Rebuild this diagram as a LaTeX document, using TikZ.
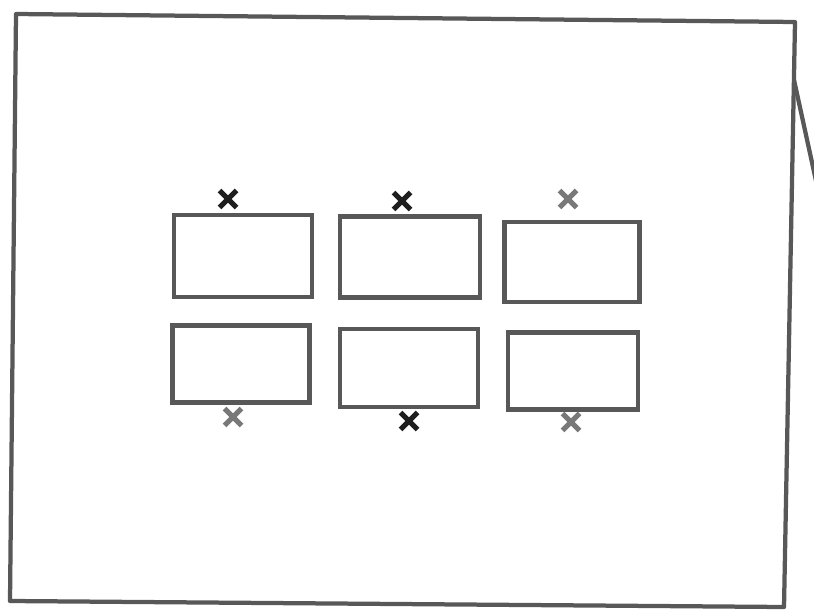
\documentclass[tikz,border=0pt]{standalone}
\definecolor{pencil}{RGB}{88,88,88}
\definecolor{ink}{RGB}{30,30,30}
\definecolor{faint}{RGB}{120,120,120}
\usetikzlibrary{shapes.misc}
\tikzset{
  frame/.style={draw=pencil, line width=0.085cm, line join=round},
  slot/.style={draw=pencil, line width=0.09cm, rectangle, inner sep=0pt,
               minimum width=2.7cm, minimum height=1.6cm},
  xmark/.style={cross out, draw=ink, line width=0.1cm, inner sep=0pt,
               minimum size=0.24cm},
  softxmark/.style={xmark, draw=faint},
}
\begin{document}
\begin{tikzpicture}[x=0.02cm,y=-0.02cm]
        \useasboundingbox (0,0) rectangle (814,611);
        % outer sheet
        \coordinate (tl) at (16,14);
        \coordinate (tr) at (795,22);
        \coordinate (br) at (784,607);
        \coordinate (bl) at (10,601);
        \draw[frame] (tl) -- (tr) -- (br) -- (bl) -- cycle;
        \coordinate (fold) at (794,80);
        \coordinate (flap) at (818,190);
        \draw[frame] (fold) -- (flap);
        % top row
        \node[slot,minimum width=2.76cm,minimum height=1.64cm] (s1) at (243,256) {};
        \node[slot,minimum width=2.80cm,minimum height=1.62cm] (s2) at (410,257) {};
        \node[slot,minimum width=2.70cm,minimum height=1.60cm] (s3) at (572,262) {};
        % bottom row
        \node[slot,minimum width=2.74cm,minimum height=1.54cm] (s4) at (241,364) {};
        \node[slot,minimum width=2.76cm,minimum height=1.56cm] (s5) at (409,368) {};
        \node[slot,minimum width=2.60cm,minimum height=1.54cm] (s6) at (573,371) {};
        % crosses
        \node[xmark] (m1) at (228,199) {};
        \node[xmark] (m2) at (402,201) {};
        \node[softxmark] (m3) at (568,199) {};
        \node[softxmark] (m4) at (233,417) {};
        \node[xmark] (m5) at (409,421) {};
        \node[softxmark] (m6) at (571,422) {};
      \end{tikzpicture}
\end{document}
